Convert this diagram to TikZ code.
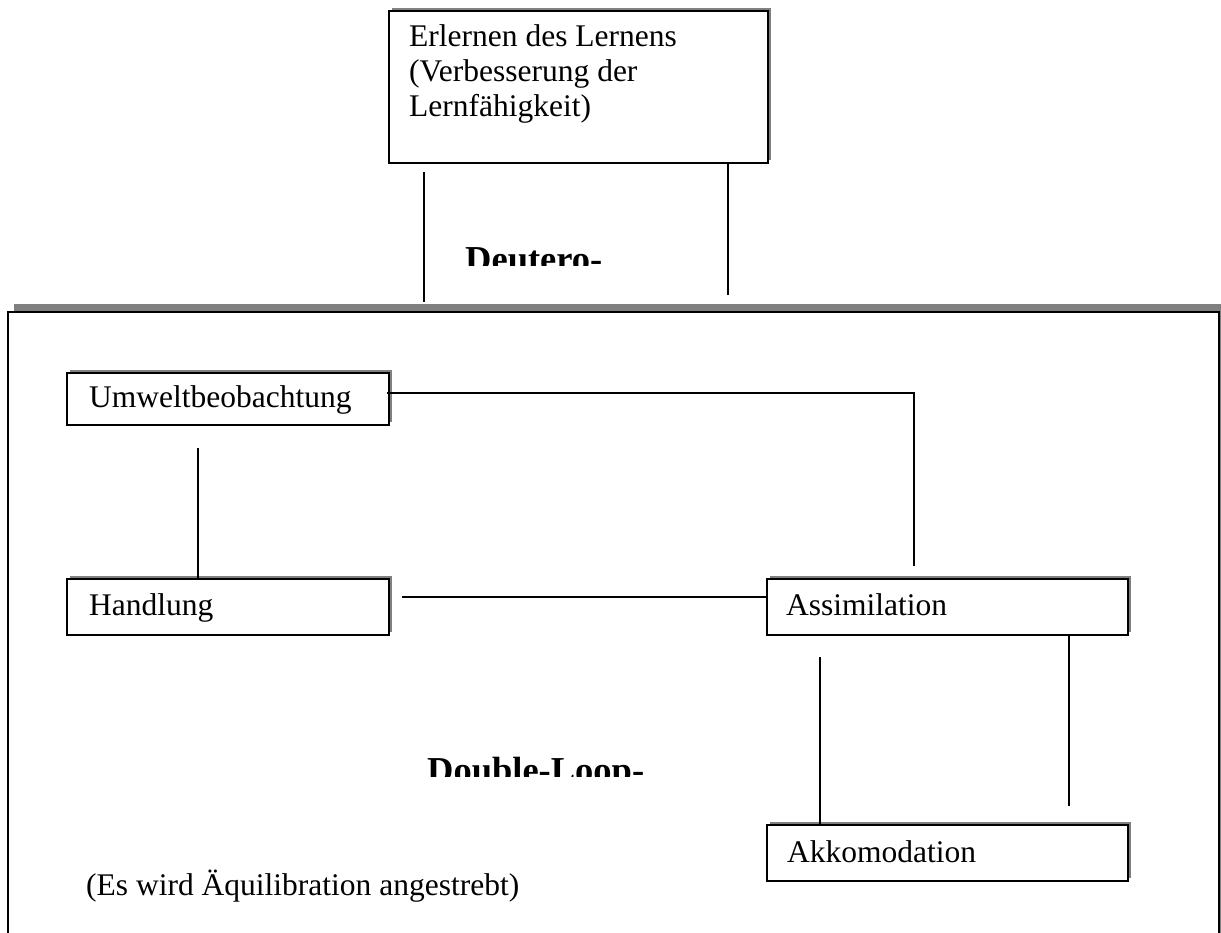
\documentclass[tikz,border=0pt]{standalone}
\usepackage{fontspec}
\setmainfont{Liberation Serif}
\usetikzlibrary{calc,shadows}
\begin{document}
\begin{tikzpicture}[x=1pt,y=-1pt,
  box/.style={draw=black, line width=2pt, fill=white, anchor=north west,
    inner sep=0pt,
    drop shadow={shadow xshift=3pt, shadow yshift=3pt, opacity=1, fill=black!50}},
  txt/.style={anchor=base west, inner sep=0pt, align=left,
    font=\fontsize{31.5}{35}\selectfont},
  head/.style={anchor=base west, inner sep=0pt,
    font=\fontsize{36.5}{40}\selectfont\bfseries},
  link/.style={line width=1.5pt, draw=black}]
\useasboundingbox (0,0) rectangle (1221,933);

% outer frame (open at the bottom) with its grey shadow band
\begin{scope}
  \clip (0,0) rectangle (1221,933);
  \fill[black!50] (14,304) rectangle (1240,1000);
  \draw[line width=2.5pt, fill=white] (8,312) rectangle (1219,1000);
\end{scope}

% boxes
\node[box, minimum width=379pt, minimum height=152pt] (top) at (388,10) {};
% three-line text: the base anchor sits on its last line
\node[txt] (topText) at (409,117) {Erlernen des Lernens\\(Verbesserung der\\Lernfähigkeit)};

\node[box, minimum width=322pt, minimum height=52pt] (umw) at (66,372) {};
\node[txt] (umwText) at (89,407) {Umweltbeobachtung};

\node[box, minimum width=322pt, minimum height=56pt] (hand) at (66,578) {};
\node[txt] (handText) at (89,615) {Handlung};

\node[box, minimum width=361pt, minimum height=56pt] (assi) at (766,578) {};
\node[txt] (assiText) at (786,615) {Assimilation};

\node[box, minimum width=361pt, minimum height=56pt] (akko) at (766,824) {};
\node[txt] (akkoText) at (787,862) {Akkomodation};

\node[txt] (equi) at (86,895) {(Es wird Äquilibration angestrebt)};

% headings cut off at their lower part
\begin{scope}
  \clip (430,236) rectangle (720,266);
  \node[head] (deutero) at (465,272) {Deutero-};
\end{scope}
\begin{scope}
  \clip (400,745) rectangle (700,776);
  \node[head] (dloop) at (427,782) {Double-Loop-};
\end{scope}

% connectors
\coordinate (d1) at ($(top.south west)+(36,8)$);
\coordinate (d1e) at (424,302);
\draw[link] (d1) -- (d1e);
\coordinate (d2) at ($(top.south west)+(340,0)$);
\coordinate (d2e) at (728,295);
\draw[link] (d2) -- (d2e);

\coordinate (u1) at ($(umw.north east)+(-3,21)$);
\coordinate (u1e) at (914,566);
\draw[link] (u1) -| (u1e);

\coordinate (u2) at ($(umw.south west)+(132,22)$);
\draw[link] (u2) -- (u2 |- hand.north);

\coordinate (h1) at ($(hand.north east)+(12,19)$);
\draw[link] (h1) -- (h1 -| assi.west);

\coordinate (a1) at ($(assi.south west)+(54,21)$);
\draw[link] (a1) -- (a1 |- akko.north);

\coordinate (a2) at ($(assi.south west)+(303,0)$);
\coordinate (a2e) at (1069,806);
\draw[link] (a2) -- (a2e);
\end{tikzpicture}
\end{document}
